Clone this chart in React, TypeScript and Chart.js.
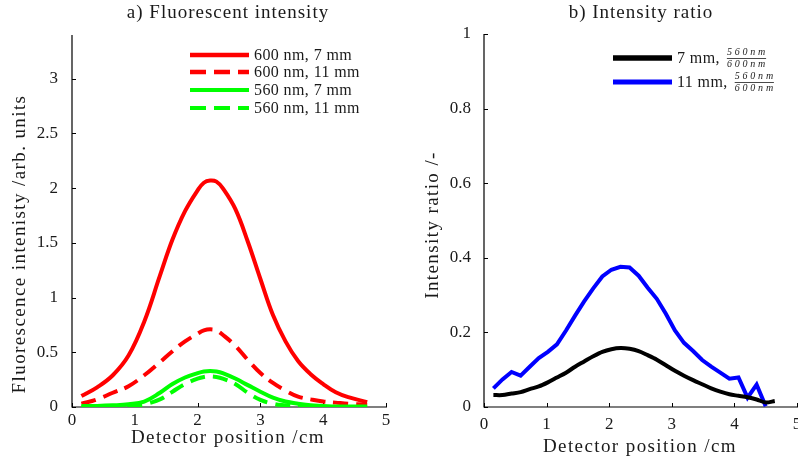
import React, { useEffect, useRef } from 'react';
import { Chart, registerables } from 'chart.js';
Chart.register(...registerables);

// ---------- data: panel a) ----------
const posA = [0.15, 0.4, 0.65, 0.9, 1.15, 1.4, 1.6, 1.8, 2.0, 2.1, 2.2, 2.3, 2.4, 2.6, 2.8, 3.0, 3.2, 3.4, 3.6, 3.8, 4.0, 4.2, 4.4, 4.7];
const red600_7 = [0.10, 0.18, 0.29, 0.47, 0.78, 1.20, 1.53, 1.79, 1.98, 2.05, 2.07, 2.06, 2.00, 1.81, 1.51, 1.17, 0.84, 0.60, 0.42, 0.30, 0.21, 0.135, 0.09, 0.045];
const red600_11 = [0.03, 0.07, 0.13, 0.19, 0.29, 0.41, 0.51, 0.60, 0.67, 0.70, 0.71, 0.70, 0.66, 0.56, 0.43, 0.31, 0.22, 0.15, 0.095, 0.07, 0.05, 0.04, 0.03, 0.02];
const green560_7 = [0.01, 0.01, 0.015, 0.025, 0.05, 0.13, 0.21, 0.27, 0.31, 0.325, 0.33, 0.325, 0.31, 0.26, 0.20, 0.14, 0.085, 0.05, 0.03, 0.015, 0.01, 0.005, 0.005, 0.005];
const green560_11 = [0.0, 0.0, 0.005, 0.01, 0.025, 0.07, 0.14, 0.21, 0.26, 0.275, 0.28, 0.275, 0.26, 0.21, 0.13, 0.065, 0.03, 0.015, 0.005, 0.0, 0.0, 0.0, 0.0, 0.0];
const legendA = ['600 nm, 7 mm', '600 nm, 11 mm', '560 nm, 7 mm', '560 nm, 11 mm'];

// ---------- data: panel b) ----------
const posB = [0.15, 0.295, 0.44, 0.585, 0.73, 0.875, 1.02, 1.165, 1.31, 1.455, 1.6, 1.745, 1.89, 2.035, 2.18, 2.325, 2.47, 2.615, 2.76, 2.905, 3.05, 3.195, 3.34, 3.485, 3.63, 3.775, 3.92, 4.065, 4.21, 4.355, 4.5, 4.645];
const ratio7 = [0.032, 0.032, 0.036, 0.040, 0.048, 0.055, 0.066, 0.079, 0.092, 0.108, 0.122, 0.136, 0.148, 0.155, 0.158, 0.156, 0.150, 0.139, 0.127, 0.112, 0.097, 0.084, 0.072, 0.061, 0.050, 0.041, 0.034, 0.030, 0.026, 0.020, 0.012, 0.016];
const ratio11 = [0.050, 0.074, 0.094, 0.084, 0.108, 0.131, 0.148, 0.168, 0.205, 0.245, 0.283, 0.318, 0.350, 0.368, 0.376, 0.374, 0.352, 0.320, 0.290, 0.250, 0.205, 0.172, 0.150, 0.126, 0.108, 0.092, 0.076, 0.079, 0.025, 0.060, 0.002];
const legendB = ['7 mm,', '11 mm,'];
const fracTop = '560nm';
const fracBottom = '600nm';

// ---------- ticks ----------
const xTicks = [0, 1, 2, 3, 4, 5];
const yTicksA = [0, 0.5, 1, 1.5, 2, 2.5, 3];
const yTicksB = [0, 0.2, 0.4, 0.6, 0.8, 1];

const FONT = "'Liberation Serif', 'Times New Roman', serif";
const TXT = '#1a1a1a';

const pts = (xs: number[], ys: number[]) => ys.map((y, i) => ({ x: xs[i], y }));

const axesPlugin = {
  id: 'axesInside',
  beforeDatasetsDraw(chart: any) {
    const { ctx, chartArea, scales } = chart;
    const { left, right, top, bottom } = chartArea;
    ctx.save();
    ctx.strokeStyle = '#000';
    ctx.lineWidth = 1.2;
    ctx.beginPath();
    ctx.moveTo(left, top);
    ctx.lineTo(left, bottom);
    ctx.lineTo(right + 1, bottom);
    ctx.stroke();
    ctx.lineWidth = 1;
    ctx.beginPath();
    scales.x.ticks.forEach((t: any) => {
      const px = Math.round(scales.x.getPixelForValue(t.value)) + 0.5;
      ctx.moveTo(px, bottom);
      ctx.lineTo(px, bottom - 4);
    });
    scales.y.ticks.forEach((t: any) => {
      const py = Math.round(scales.y.getPixelForValue(t.value)) + 0.5;
      ctx.moveTo(left, py);
      ctx.lineTo(left + 4, py);
    });
    ctx.stroke();
    ctx.restore();
  },
};

function makeTextPlugin(cfg: any) {
  return {
    id: 'texts',
    afterDraw(chart: any) {
      const ctx = chart.ctx;
      ctx.save();
      ctx.fillStyle = TXT;
      ctx.textBaseline = 'middle';
      ctx.textAlign = 'center';
      ctx.font = `19px ${FONT}`;
      (ctx as any).letterSpacing = '1px';
      ctx.fillText(cfg.title, cfg.titleX, cfg.titleY);
      (ctx as any).letterSpacing = '1.4px';
      ctx.fillText(cfg.xTitle, cfg.xTitleX, cfg.xTitleY);
      ctx.save();
      ctx.translate(cfg.yTitleX, cfg.yTitleY);
      ctx.rotate(-Math.PI / 2);
      ctx.fillText(cfg.yTitle, 0, 0);
      ctx.restore();
      // legend
      cfg.legend.forEach((it: any) => {
        ctx.save();
        ctx.strokeStyle = it.color;
        ctx.lineWidth = it.width;
        ctx.setLineDash(it.dash || []);
        ctx.beginPath();
        ctx.moveTo(cfg.legX0, it.y);
        ctx.lineTo(cfg.legX1, it.y);
        ctx.stroke();
        ctx.restore();
        ctx.textAlign = 'left';
        ctx.font = `16px ${FONT}`;
        (ctx as any).letterSpacing = '0.4px';
        ctx.fillStyle = TXT;
        ctx.fillText(it.label, cfg.legX1 + 5, it.y + 1);
        if (it.frac) {
          const w0 = ctx.measureText(it.label).width;
          ctx.font = `italic 10px ${FONT}`;
          (ctx as any).letterSpacing = '2.8px';
          const fw = Math.max(ctx.measureText(fracTop).width, ctx.measureText(fracBottom).width);
          const fx = cfg.legX1 + 5 + w0 + 7;
          ctx.textAlign = 'left';
          ctx.fillText(fracTop, fx, it.y - 5.5);
          ctx.fillText(fracBottom, fx, it.y + 6.5);
          (ctx as any).letterSpacing = '0px';
          ctx.beginPath();
          ctx.strokeStyle = TXT;
          ctx.lineWidth = 0.8;
          ctx.moveTo(fx, it.y + 0.5);
          ctx.lineTo(fx + fw - 2, it.y + 0.5);
          ctx.stroke();
        }
      });
      ctx.restore();
    },
  };
}

function scaleOpts(ticks: number[], min: number, max: number, size: number, horizontal: boolean, pad: number) {
  return {
    type: 'linear',
    min,
    max,
    grid: { display: false, drawTicks: false },
    border: { display: false },
    ticks: {
      color: TXT,
      font: { family: FONT, size: 17 },
      padding: pad,
      autoSkip: false,
      maxRotation: 0,
      callback: (v: any) => String(v),
    },
    afterBuildTicks: (s: any) => {
      s.ticks = ticks.map((v) => ({ value: v }));
    },
    afterFit: (s: any) => {
      if (horizontal) s.height = size;
      else s.width = size;
      s.paddingLeft = 0;
      s.paddingRight = 0;
      s.paddingTop = 0;
      s.paddingBottom = 0;
    },
  };
}

export default function App() {
  const refA = useRef<HTMLCanvasElement>(null);
  const refB = useRef<HTMLCanvasElement>(null);

  useEffect(() => {
    const lineBase = { pointRadius: 0, borderCapStyle: 'butt', fill: false };
    const chartA = new Chart(refA.current as HTMLCanvasElement, {
      type: 'line',
      data: {
        datasets: [
          { ...lineBase, data: pts(posA, green560_11), borderColor: '#00ff00', borderWidth: 4, borderDash: [15, 8], tension: 0.4 },
          { ...lineBase, data: pts(posA, green560_7), borderColor: '#00ff00', borderWidth: 4, tension: 0.4 },
          { ...lineBase, data: pts(posA, red600_11), borderColor: '#ff0000', borderWidth: 4, borderDash: [15, 8], tension: 0.4 },
          { ...lineBase, data: pts(posA, red600_7), borderColor: '#ff0000', borderWidth: 4, tension: 0.4 },
        ] as any,
      },
      options: {
        animation: false,
        responsive: false,
        events: [],
        layout: { padding: { left: 0, right: 14, top: 35, bottom: 0 } },
        plugins: { legend: { display: false }, tooltip: { enabled: false } },
        scales: {
          x: scaleOpts(xTicks, 0, 5, 53, true, 3),
          y: scaleOpts(yTicksA, 0, 3.4, 72, false, 14),
        } as any,
      },
      plugins: [
        axesPlugin,
        makeTextPlugin({
          title: 'a) Fluorescent intensity', titleX: 228, titleY: 13,
          xTitle: 'Detector position /cm', xTitleX: 228, xTitleY: 438,
          yTitle: 'Fluorescence intenisty /arb. units', yTitleX: 20, yTitleY: 244,
          legX0: 190, legX1: 249,
          legend: [
            { label: legendA[0], color: '#ff0000', width: 4.5, y: 55 },
            { label: legendA[1], color: '#ff0000', width: 4.5, dash: [16, 8], y: 72 },
            { label: legendA[2], color: '#00ff00', width: 4, y: 90 },
            { label: legendA[3], color: '#00ff00', width: 4, dash: [16, 8], y: 108 },
          ],
        }),
      ],
    } as any);

    const chartB = new Chart(refB.current as HTMLCanvasElement, {
      type: 'line',
      data: {
        datasets: [
          { ...lineBase, data: pts(posB, ratio7), borderColor: '#000000', borderWidth: 4, tension: 0.3 },
          { ...lineBase, data: pts(posB, ratio11), borderColor: '#0000ff', borderWidth: 4, tension: 0 },
        ] as any,
      },
      options: {
        animation: false,
        responsive: false,
        events: [],
        layout: { padding: { left: 0, right: 1, top: 34, bottom: 0 } },
        plugins: { legend: { display: false }, tooltip: { enabled: false } },
        scales: {
          x: scaleOpts(xTicks, 0, 5, 53, true, 7),
          y: scaleOpts(yTicksB, 0, 1, 84, false, 13),
        } as any,
      },
      plugins: [
        axesPlugin,
        makeTextPlugin({
          title: 'b) Intensity ratio', titleX: 241, titleY: 13,
          xTitle: 'Detector position /cm', xTitleX: 240, xTitleY: 447,
          yTitle: 'Intensity ratio /-', yTitleX: 33, yTitleY: 225,
          legX0: 213, legX1: 272,
          legend: [
            { label: legendB[0], color: '#000000', width: 5.5, y: 58, frac: true },
            { label: legendB[1], color: '#0000ff', width: 5, y: 82, frac: true },
          ],
        }),
      ],
    } as any);

    return () => {
      chartA.destroy();
      chartB.destroy();
    };
  }, []);

  return (
    <div style={{ position: 'absolute', left: 0, top: 0, width: 798, height: 460, background: '#fff', overflow: 'hidden' }}>
      <canvas ref={refA} width={400} height={460} style={{ position: 'absolute', left: 0, top: 0, width: 400, height: 460 }} />
      <canvas ref={refB} width={398} height={460} style={{ position: 'absolute', left: 400, top: 0, width: 398, height: 460 }} />
    </div>
  );
}
